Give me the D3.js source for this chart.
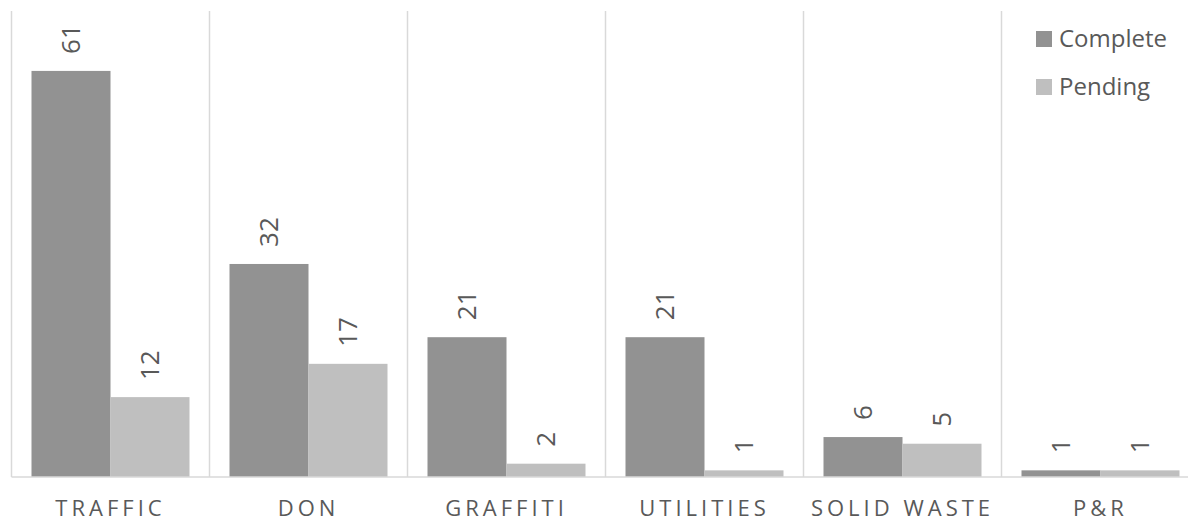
<!DOCTYPE html>
<html>
<head>
<meta charset="utf-8">
<script src="https://cdn.jsdelivr.net/npm/d3@7"></script>
<style>
  body { margin: 0; background: #fff; }
  text { font-family: "Open Sans", sans-serif; fill: #595959; }
</style>
</head>
<body>
<div id="chart"></div>
<script>
// categories and series
var categories = ["TRAFFIC", "DON", "GRAFFITI", "UTILITIES", "SOLID WASTE", "P&R"];
var seriesNames = ["Complete", "Pending"];
var complete = [61, 32, 21, 21, 6, 1];
var pending = [12, 17, 2, 1, 5, 1];
var colors = ["#929292", "#bfbfbf"];

var width = 1188, height = 522;
var plotLeft = 11.5, bandW = 198, plotTop = 11, plotBottom = 477;

var svg = d3.select("#chart").append("svg")
  .attr("width", width)
  .attr("height", height);

var x0 = d3.scaleBand()
  .domain(categories)
  .range([plotLeft, plotLeft + bandW * categories.length]);

var x1 = d3.scaleBand()
  .domain(seriesNames)
  .range([20, bandW - 20]);

var y = d3.scaleLinear()
  .domain([0, 70])
  .range([plotBottom, plotTop]);

// vertical separators between categories
svg.append("g")
  .selectAll("line")
  .data(categories)
  .enter().append("line")
  .attr("x1", function(d) { return x0(d); })
  .attr("x2", function(d) { return x0(d); })
  .attr("y1", y(70))
  .attr("y2", plotBottom)
  .attr("stroke", "#d9d9d9")
  .attr("stroke-width", 1.5);

var rows = categories.map(function(c, i) {
  return { cat: c, values: [complete[i], pending[i]] };
});

var groups = svg.append("g")
  .selectAll("g")
  .data(rows)
  .enter().append("g")
  .attr("transform", function(d) { return "translate(" + x0(d.cat) + ",0)"; });

groups.selectAll("rect")
  .data(function(d) { return d.values.map(function(v, j) { return { s: seriesNames[j], v: v, j: j }; }); })
  .enter().append("rect")
  .attr("x", function(d) { return x1(d.s); })
  .attr("width", x1.bandwidth())
  .attr("y", function(d) { return y(d.v); })
  .attr("height", function(d) { return plotBottom - y(d.v); })
  .attr("fill", function(d) { return colors[d.j]; });

// rotated value labels
groups.selectAll("text.val")
  .data(function(d) { return d.values.map(function(v, j) { return { s: seriesNames[j], v: v }; }); })
  .enter().append("text")
  .attr("class", "val")
  .attr("transform", function(d) {
    return "translate(" + (x1(d.s) + x1.bandwidth() / 2) + "," + (y(d.v) - 17) + ") rotate(-90)";
  })
  .attr("dy", "0.36em")
  .attr("text-anchor", "start")
  .style("font-size", "26px")
  .text(function(d) { return d.v; });

// baseline
svg.append("line")
  .attr("x1", plotLeft)
  .attr("x2", width)
  .attr("y1", plotBottom)
  .attr("y2", plotBottom)
  .attr("stroke", "#d9d9d9")
  .attr("stroke-width", 1.5);

// category labels
svg.append("g")
  .selectAll("text")
  .data(categories)
  .enter().append("text")
  .attr("x", function(d) { return x0(d) + bandW / 2; })
  .attr("y", 516)
  .attr("text-anchor", "middle")
  .style("font-size", "22px")
  .style("letter-spacing", "4px")
  .text(function(d) { return d; });

// legend
var legend = svg.append("g")
  .selectAll("g")
  .data(seriesNames)
  .enter().append("g")
  .attr("transform", function(d, i) { return "translate(1036," + (31 + i * 48) + ")"; });

legend.append("rect")
  .attr("width", 16)
  .attr("height", 16)
  .attr("fill", function(d, i) { return colors[i]; });

legend.append("text")
  .attr("x", 23)
  .attr("y", 16)
  .style("font-size", "24px")
  .text(function(d) { return d; });
</script>
</body>
</html>
